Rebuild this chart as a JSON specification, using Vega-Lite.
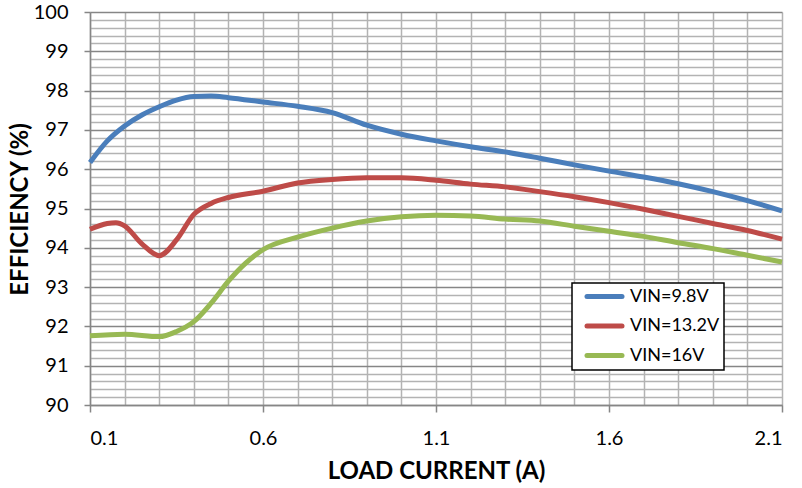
{
  "$schema": "https://vega.github.io/schema/vega-lite/v6.json",
  "width": 692,
  "height": 393,
  "autosize": {"type": "none"},
  "padding": {"left": 90, "top": 12, "right": 20, "bottom": 83},
  "background": "white",
  "config": {"view": {"stroke": null}, "font": "Lato", "legend": {"strokeWidth": 1.5}},
  "data": {"values": [
    {"series": "VIN=9.8V", "current": 0.1, "eff": 96.17},
    {"series": "VIN=9.8V", "current": 0.15, "eff": 96.72},
    {"series": "VIN=9.8V", "current": 0.2, "eff": 97.1},
    {"series": "VIN=9.8V", "current": 0.25, "eff": 97.38},
    {"series": "VIN=9.8V", "current": 0.3, "eff": 97.59},
    {"series": "VIN=9.8V", "current": 0.35, "eff": 97.76},
    {"series": "VIN=9.8V", "current": 0.4, "eff": 97.85},
    {"series": "VIN=9.8V", "current": 0.45, "eff": 97.86},
    {"series": "VIN=9.8V", "current": 0.5, "eff": 97.82},
    {"series": "VIN=9.8V", "current": 0.6, "eff": 97.71},
    {"series": "VIN=9.8V", "current": 0.7, "eff": 97.6},
    {"series": "VIN=9.8V", "current": 0.8, "eff": 97.44},
    {"series": "VIN=9.8V", "current": 0.9, "eff": 97.12},
    {"series": "VIN=9.8V", "current": 1.0, "eff": 96.89},
    {"series": "VIN=9.8V", "current": 1.1, "eff": 96.72},
    {"series": "VIN=9.8V", "current": 1.2, "eff": 96.57},
    {"series": "VIN=9.8V", "current": 1.3, "eff": 96.44},
    {"series": "VIN=9.8V", "current": 1.4, "eff": 96.28},
    {"series": "VIN=9.8V", "current": 1.5, "eff": 96.11},
    {"series": "VIN=9.8V", "current": 1.6, "eff": 95.95},
    {"series": "VIN=9.8V", "current": 1.7, "eff": 95.8},
    {"series": "VIN=9.8V", "current": 1.8, "eff": 95.63},
    {"series": "VIN=9.8V", "current": 1.9, "eff": 95.43},
    {"series": "VIN=9.8V", "current": 2.0, "eff": 95.2},
    {"series": "VIN=9.8V", "current": 2.1, "eff": 94.94},
    {"series": "VIN=13.2V", "current": 0.1, "eff": 94.47},
    {"series": "VIN=13.2V", "current": 0.15, "eff": 94.62},
    {"series": "VIN=13.2V", "current": 0.175, "eff": 94.64},
    {"series": "VIN=13.2V", "current": 0.2, "eff": 94.56},
    {"series": "VIN=13.2V", "current": 0.25, "eff": 94.1},
    {"series": "VIN=13.2V", "current": 0.3, "eff": 93.8},
    {"series": "VIN=13.2V", "current": 0.35, "eff": 94.2},
    {"series": "VIN=13.2V", "current": 0.4, "eff": 94.85},
    {"series": "VIN=13.2V", "current": 0.45, "eff": 95.13},
    {"series": "VIN=13.2V", "current": 0.5, "eff": 95.28},
    {"series": "VIN=13.2V", "current": 0.6, "eff": 95.44},
    {"series": "VIN=13.2V", "current": 0.7, "eff": 95.65},
    {"series": "VIN=13.2V", "current": 0.8, "eff": 95.74},
    {"series": "VIN=13.2V", "current": 0.9, "eff": 95.78},
    {"series": "VIN=13.2V", "current": 1.0, "eff": 95.78},
    {"series": "VIN=13.2V", "current": 1.1, "eff": 95.72},
    {"series": "VIN=13.2V", "current": 1.2, "eff": 95.62},
    {"series": "VIN=13.2V", "current": 1.3, "eff": 95.55},
    {"series": "VIN=13.2V", "current": 1.4, "eff": 95.43},
    {"series": "VIN=13.2V", "current": 1.5, "eff": 95.3},
    {"series": "VIN=13.2V", "current": 1.6, "eff": 95.15},
    {"series": "VIN=13.2V", "current": 1.7, "eff": 94.98},
    {"series": "VIN=13.2V", "current": 1.8, "eff": 94.8},
    {"series": "VIN=13.2V", "current": 1.9, "eff": 94.62},
    {"series": "VIN=13.2V", "current": 2.0, "eff": 94.44},
    {"series": "VIN=13.2V", "current": 2.1, "eff": 94.22},
    {"series": "VIN=16V", "current": 0.1, "eff": 91.76},
    {"series": "VIN=16V", "current": 0.2, "eff": 91.8},
    {"series": "VIN=16V", "current": 0.3, "eff": 91.74},
    {"series": "VIN=16V", "current": 0.35, "eff": 91.87},
    {"series": "VIN=16V", "current": 0.4, "eff": 92.12},
    {"series": "VIN=16V", "current": 0.45, "eff": 92.59},
    {"series": "VIN=16V", "current": 0.5, "eff": 93.15},
    {"series": "VIN=16V", "current": 0.55, "eff": 93.61},
    {"series": "VIN=16V", "current": 0.6, "eff": 93.95},
    {"series": "VIN=16V", "current": 0.7, "eff": 94.27},
    {"series": "VIN=16V", "current": 0.8, "eff": 94.5},
    {"series": "VIN=16V", "current": 0.9, "eff": 94.68},
    {"series": "VIN=16V", "current": 1.0, "eff": 94.79},
    {"series": "VIN=16V", "current": 1.1, "eff": 94.83},
    {"series": "VIN=16V", "current": 1.2, "eff": 94.81},
    {"series": "VIN=16V", "current": 1.3, "eff": 94.73},
    {"series": "VIN=16V", "current": 1.4, "eff": 94.68},
    {"series": "VIN=16V", "current": 1.5, "eff": 94.55},
    {"series": "VIN=16V", "current": 1.6, "eff": 94.42},
    {"series": "VIN=16V", "current": 1.7, "eff": 94.29},
    {"series": "VIN=16V", "current": 1.8, "eff": 94.13},
    {"series": "VIN=16V", "current": 1.9, "eff": 93.98},
    {"series": "VIN=16V", "current": 2.0, "eff": 93.81},
    {"series": "VIN=16V", "current": 2.1, "eff": 93.64}
  ]},
  "layer": [
    {
      "mark": {"type": "line", "opacity": 0},
      "encoding": {
        "x": {"field": "current", "type": "quantitative",
          "scale": {"domain": [0.1, 2.1], "nice": false, "zero": false},
          "axis": {"orient": "bottom", "values": [0.1,0.2,0.3,0.4,0.5,0.6,0.7,0.8,0.9,1.0,1.1,1.2,1.3,1.4,1.5,1.6,1.7,1.8,1.9,2.0,2.1],
            "grid": true, "gridColor": "#b3b3b3", "gridWidth": 1.5, "labels": false, "ticks": false, "domain": false, "title": null}},
        "y": {"field": "eff", "type": "quantitative",
          "scale": {"domain": [90, 100], "nice": false, "zero": false},
          "axis": {"orient": "left", "values": [90.2,90.4,90.6,90.8,91.2,91.4,91.6,91.8,92.2,92.4,92.6,92.8,93.2,93.4,93.6,93.8,94.2,94.4,94.6,94.8,95.2,95.4,95.6,95.8,96.2,96.4,96.6,96.8,97.2,97.4,97.6,97.8,98.2,98.4,98.6,98.8,99.2,99.4,99.6,99.8],
            "grid": true, "gridColor": "#b3b3b3", "gridWidth": 1.5, "labels": false, "ticks": false, "domain": false, "title": null}},
        "detail": {"field": "series", "type": "nominal"}
      }
    },
    {
      "mark": {"type": "line", "strokeWidth": 5, "interpolate": "monotone"},
      "encoding": {
        "x": {"field": "current", "type": "quantitative",
          "axis": {"orient": "bottom", "values": [0.1, 0.6, 1.1, 1.6, 2.1], "format": ".1f", "grid": false,
            "domainColor": "#868686", "domainWidth": 1.5, "tickColor": "#868686", "tickWidth": 1.5, "tickSize": 7,
            "labelFontSize": 20, "labelColor": "black", "labelPadding": 32, "labelBaseline": "alphabetic",
            "title": "LOAD CURRENT (A)", "titleFontSize": 24, "titleFontWeight": "bold", "titleColor": "black",
            "titleX": 346, "titleY": 73, "titleBaseline": "alphabetic", "titleAlign": "center"}},
        "y": {"field": "eff", "type": "quantitative",
          "axis": {"orient": "left", "values": [90,91,92,93,94,95,96,97,98,99,100], "grid": true, "gridColor": "#868686", "gridWidth": 1.5,
            "domainColor": "#868686", "domainWidth": 1.5, "tickColor": "#868686", "tickWidth": 1.5, "tickSize": 6,
            "labelFontSize": 20, "labelColor": "black", "labelPadding": 16,
            "title": "EFFICIENCY (%)", "titleFontSize": 24, "titleFontWeight": "bold", "titleColor": "black",
            "titleX": -63, "titleY": 197, "titleBaseline": "alphabetic", "titleAlign": "center", "titleAngle": 270}},
        "color": {"field": "series", "type": "nominal",
          "scale": {"domain": ["VIN=9.8V", "VIN=13.2V", "VIN=16V"], "range": ["#4a7ebb", "#be4b48", "#98b954"]},
          "legend": {"orient": "none", "legendX": 482, "legendY": 271, "title": null,
            "fillColor": "white", "strokeColor": "black", "padding": 4.5,
            "symbolType": "M0.3,0H7.3", "symbolSize": 100, "symbolStrokeWidth": 5,
            "labelFontSize": 18, "labelColor": "black", "labelOffset": 35.5, "rowPadding": 9.5,
            "encode": {"symbols": {"update": {"strokeCap": {"value": "round"}}}}}}
      }
    }
  ],
  "resolve": {"axis": {"x": "independent", "y": "independent"}}
}
